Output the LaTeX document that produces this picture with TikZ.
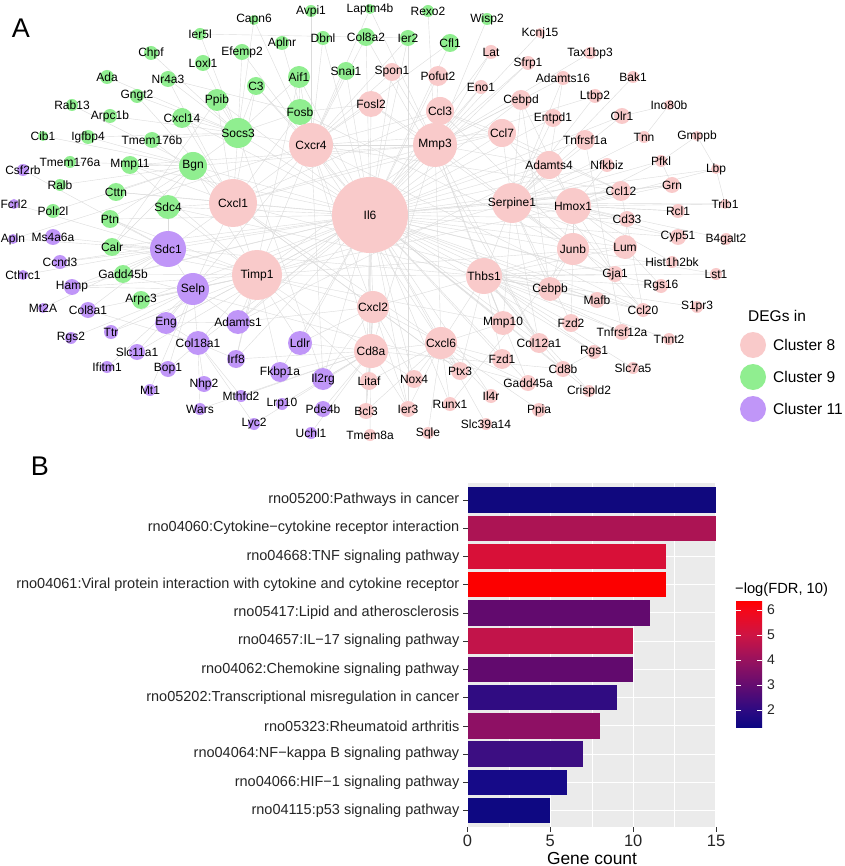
\documentclass[tikz,border=0pt]{standalone}
\usepackage{fontspec}
\setmainfont{Liberation Sans}
\pgfdeclarelayer{bg}\pgfdeclarelayer{fg}
\pgfsetlayers{bg,main,fg}
\definecolor{c8}{RGB}{249,202,202}
\definecolor{c9}{RGB}{144,238,144}
\definecolor{c11}{RGB}{192,150,248}
\definecolor{edgec}{RGB}{220,220,220}
\definecolor{panelbg}{RGB}{235,235,235}
\definecolor{tickc}{RGB}{51,51,51}
\definecolor{lo}{RGB}{12,6,130}
\definecolor{s2}{RGB}{45,10,130}
\definecolor{s3}{RGB}{100,12,112}
\definecolor{s4}{RGB}{152,18,94}
\definecolor{s5}{RGB}{205,20,68}
\definecolor{s6}{RGB}{245,8,25}
\definecolor{hi}{RGB}{255,0,0}
\definecolor{b1}{RGB}{16,8,126}
\definecolor{b2}{RGB}{172,20,84}
\definecolor{b3}{RGB}{216,16,56}
\definecolor{b4}{RGB}{252,0,0}
\definecolor{b5}{RGB}{98,10,110}
\definecolor{b6}{RGB}{194,20,74}
\definecolor{b7}{RGB}{98,10,110}
\definecolor{b8}{RGB}{48,12,130}
\definecolor{b9}{RGB}{142,16,100}
\definecolor{b10}{RGB}{60,14,130}
\definecolor{b11}{RGB}{22,10,136}
\definecolor{b12}{RGB}{14,8,130}
\pgfdeclareverticalshading{fdr}{100bp}{color(0bp)=(lo); color(25bp)=(lo); color(31.75bp)=(s2); color(41.67bp)=(s3); color(51.59bp)=(s4); color(61.51bp)=(s5); color(71.43bp)=(s6); color(75bp)=(hi); color(100bp)=(hi)}
\tikzset{
  gcirc/.style={circle, draw=none, inner sep=0pt},
  glab/.style={inner sep=0pt, font=\fontsize{12}{12}\selectfont, text=black},
  edge/.style={draw=edgec, line width=0.4pt},
  ylab/.style={anchor=east, inner sep=0pt, font=\fontsize{14.5}{14.5}\selectfont, text=black!85},
  xlab/.style={inner sep=0pt, font=\fontsize{16.5}{16.5}\selectfont, text=black!85},
  tickline/.style={draw=tickc, line width=0.6pt},
  leglab/.style={anchor=west, inner sep=0pt, font=\fontsize{15.5}{15.5}\selectfont},
  panel/.style={inner sep=0pt, font=\fontsize{27}{27}\selectfont}
}
\newcommand\gnode[5]{%
  \node[gcirc, fill=#5, minimum size={2*#4pt}] (#1) at (#2,#3) {};
  \begin{pgfonlayer}{fg}\node[glab] at (#1.center) {#1};\end{pgfonlayer}}
\begin{document}
\begin{tikzpicture}[x=1pt, y=-1pt]
\begin{pgfonlayer}{bg}
\fill[white] (0,0) rectangle (844,866);
\end{pgfonlayer}
\useasboundingbox (0,0) rectangle (844,866);

\node[panel] (labA) at (21,28) {A};
\node[panel] (labB) at (40,466) {B};

% ---- cluster 8 (pink)
\gnode{Il6}{370}{215}{38}{c8}
\gnode{Cxcr4}{311}{145}{22}{c8}
\gnode{Mmp3}{435}{145}{22}{c8}
\gnode{Cxcl1}{233}{203}{24}{c8}
\gnode{Timp1}{257}{275}{25}{c8}
\gnode{Serpine1}{512}{203}{20}{c8}
\gnode{Thbs1}{484}{276}{18}{c8}
\gnode{Hmox1}{573}{206}{18}{c8}
\gnode{Junb}{573}{249}{16}{c8}
\gnode{Cxcl2}{373}{307}{16}{c8}
\gnode{Cd8a}{371}{351}{17}{c8}
\gnode{Cxcl6}{441}{343}{16}{c8}
\gnode{Ccl3}{440}{111}{14}{c8}
\gnode{Ccl7}{502}{133}{14}{c8}
\gnode{Fosl2}{371}{104}{13}{c8}
\gnode{Adamts4}{549}{165}{14}{c8}
\gnode{Lum}{625}{247}{12}{c8}
\gnode{Cebpb}{550}{289}{12}{c8}
\gnode{Mmp10}{503}{323}{12}{c8}
\gnode{Cebpd}{521}{100}{10}{c8}
\gnode{Pofut2}{438}{76}{10}{c8}
\gnode{Spon1}{392}{72}{9}{c8}
\gnode{Tnfrsf1a}{585}{140}{10}{c8}
\gnode{Ccl12}{621}{191}{10}{c8}
\gnode{Col12a1}{539}{343}{10}{c8}
\gnode{Fzd1}{502}{359}{10}{c8}
\gnode{Entpd1}{553}{118}{9}{c8}
\gnode{Fzd2}{571}{323}{9}{c8}
\gnode{Ptx3}{460}{371}{9}{c8}
\gnode{Nox4}{414}{379}{9}{c8}
\gnode{Litaf}{369}{381}{9}{c8}
\gnode{Olr1}{622}{116}{8}{c8}
\gnode{Eno1}{481}{87}{7}{c8}
\gnode{Lat}{491}{52}{7}{c8}
\gnode{Sfrp1}{528}{63}{7}{c8}
\gnode{Kcnj15}{540}{33}{5}{c8}
\gnode{Tax1bp3}{590}{53}{6}{c8}
\gnode{Adamts16}{563}{78}{7}{c8}
\gnode{Bak1}{633}{77}{6}{c8}
\gnode{Ltbp2}{595}{96}{7}{c8}
\gnode{Ino80b}{669}{105}{5}{c8}
\gnode{Tnn}{644}{137}{6}{c8}
\gnode{Gmppb}{697}{136}{5}{c8}
\gnode{Nfkbiz}{607}{165}{7}{c8}
\gnode{Pfkl}{661}{161}{6}{c8}
\gnode{Lbp}{716}{169}{5}{c8}
\gnode{Grn}{672}{185}{8}{c8}
\gnode{Trib1}{725}{204}{5}{c8}
\gnode{Rcl1}{678}{211}{7}{c8}
\gnode{Cd33}{627}{219}{8}{c8}
\gnode{Cyp51}{678}{237}{8}{c8}
\gnode{B4galt2}{726}{239}{6}{c8}
\gnode{Hist1h2bk}{672}{262}{6}{c8}
\gnode{Lst1}{716}{274}{6}{c8}
\gnode{Gja1}{615}{274}{8}{c8}
\gnode{Rgs16}{661}{286}{7}{c8}
\gnode{Mafb}{597}{300}{8}{c8}
\gnode{Ccl20}{643}{310}{7}{c8}
\gnode{S1pr3}{697}{307}{6}{c8}
\gnode{Tnfrsf12a}{622}{332}{8}{c8}
\gnode{Tnnt2}{669}{339}{6}{c8}
\gnode{Rgs1}{594}{352}{7}{c8}
\gnode{Cd8b}{563}{369}{8}{c8}
\gnode{Slc7a5}{633}{368}{6}{c8}
\gnode{Crispld2}{589}{391}{6}{c8}
\gnode{Gadd45a}{528}{383}{8}{c8}
\gnode{Il4r}{491}{396}{7}{c8}
\gnode{Ppia}{539}{410}{7}{c8}
\gnode{Slc39a14}{486}{424}{6}{c8}
\gnode{Runx1}{450}{404}{7}{c8}
\gnode{Ier3}{408}{409}{8}{c8}
\gnode{Sqle}{428}{433}{6}{c8}
\gnode{Bcl3}{366}{411}{8}{c8}
\gnode{Tmem8a}{370}{435}{6}{c8}

% ---- cluster 9 (green)
\gnode{Capn6}{254}{20}{5}{c9}
\gnode{Avpi1}{311}{11}{6}{c9}
\gnode{Laptm4b}{370}{9}{5}{c9}
\gnode{Rexo2}{428}{11}{6}{c9}
\gnode{Wisp2}{487}{19}{6}{c9}
\gnode{Ier5l}{200}{34}{6}{c9}
\gnode{Aplnr}{282}{43}{7}{c9}
\gnode{Dbnl}{323}{38}{7}{c9}
\gnode{Col8a2}{366}{37}{9}{c9}
\gnode{Ier2}{408}{38}{8}{c9}
\gnode{Cfl1}{450}{43}{9}{c9}
\gnode{Chpf}{151}{53}{7}{c9}
\gnode{Efemp2}{242}{52}{8}{c9}
\gnode{Loxl1}{203}{63}{8}{c9}
\gnode{Ada}{107}{77}{7}{c9}
\gnode{Nr4a3}{168}{79}{8}{c9}
\gnode{C3}{256}{86}{9}{c9}
\gnode{Aif1}{299}{77}{11}{c9}
\gnode{Snai1}{346}{71}{9}{c9}
\gnode{Gngt2}{137}{96}{7}{c9}
\gnode{Ppib}{217}{100}{11}{c9}
\gnode{Rab13}{72}{105}{6}{c9}
\gnode{Arpc1b}{110}{116}{7}{c9}
\gnode{Cxcl14}{182}{118}{10}{c9}
\gnode{Fosb}{300}{112}{13}{c9}
\gnode{Socs3}{238}{133}{15}{c9}
\gnode{Cib1}{43}{136}{5}{c9}
\gnode{Igfbp4}{88}{137}{7}{c9}
\gnode{Tmem176b}{152}{140}{8}{c9}
\gnode{Tmem176a}{70}{162}{6}{c9}
\gnode{Mmp11}{130}{165}{9}{c9}
\gnode{Bgn}{193}{166}{14}{c9}
\gnode{Ralb}{60}{185}{6}{c9}
\gnode{Cttn}{116}{192}{9}{c9}
\gnode{Sdc4}{168}{207}{12}{c9}
\gnode{Polr2l}{53}{211}{7}{c9}
\gnode{Ptn}{110}{219}{9}{c9}
\gnode{Calr}{112}{247}{9}{c9}
\gnode{Gadd45b}{123}{274}{9}{c9}
\gnode{Arpc3}{141}{300}{9}{c9}

% ---- cluster 11 (purple)
\gnode{Csf2rb}{23}{170}{6}{c11}
\gnode{Fcrl2}{14}{204}{5}{c11}
\gnode{Apln}{13}{239}{5}{c11}
\gnode{Ms4a6a}{53}{237}{8}{c11}
\gnode{Sdc1}{168}{249}{18}{c11}
\gnode{Ccnd3}{60}{262}{7}{c11}
\gnode{Cthrc1}{23}{275}{5}{c11}
\gnode{Hamp}{72}{287}{8}{c11}
\gnode{Selp}{193}{289}{16}{c11}
\gnode{Mt2A}{43}{308}{5}{c11}
\gnode{Col8a1}{88}{310}{8}{c11}
\gnode{Eng}{166}{323}{11}{c11}
\gnode{Adamts1}{238}{322}{12}{c11}
\gnode{Ttr}{111}{332}{7}{c11}
\gnode{Rgs2}{71}{338}{6}{c11}
\gnode{Col18a1}{198}{343}{12}{c11}
\gnode{Slc11a1}{137}{352}{8}{c11}
\gnode{Irf8}{236}{359}{9}{c11}
\gnode{Ifitm1}{107}{367}{6}{c11}
\gnode{Bop1}{168}{369}{8}{c11}
\gnode{Fkbp1a}{280}{372}{10}{c11}
\gnode{Nhp2}{204}{384}{8}{c11}
\gnode{Mt1}{150}{390}{6}{c11}
\gnode{Mthfd2}{241}{396}{6}{c11}
\gnode{Lrp10}{282}{404}{6}{c11}
\gnode{Wars}{200}{409}{6}{c11}
\gnode{Lyc2}{254}{424}{6}{c11}
\gnode{Ldlr}{300}{343}{12}{c11}
\gnode{Il2rg}{323}{379}{11}{c11}
\gnode{Pde4b}{323}{409}{8}{c11}
\gnode{Uchl1}{311}{433}{6}{c11}

% ---- edges
\begin{pgfonlayer}{bg}
\foreach \t in {Cxcr4,Mmp3,Cxcl1,Timp1,Serpine1,Thbs1,Cxcl2,Cd8a,Cxcl6,Hmox1,Junb,Ccl7,Ccl3,Fosl2,Socs3,Bgn,Sdc1,Selp,Fosb,Aif1,Cebpd,Cebpb,Adamts4,Lum,Mmp10,Ccl12,Ccl20,Col18a1,Adamts1,Eng,Ldlr,Il2rg,Litaf,Nox4,Ptx3,Ier3,Runx1,Bcl3,Il4r,Fzd1,Col12a1,Gadd45a,Tnfrsf1a,Tnfrsf12a,Nfkbiz,Grn,Lbp,Cd33,Ppib,C3,Cxcl14,Sdc4,Calr,Gadd45b,Ptn,Mmp11,Cttn,Arpc3,Snai1,Spon1,Pofut2,Eno1,Lat,Sfrp1,Entpd1,Olr1,Fkbp1a,Irf8,Slc11a1,Hamp,Ccnd3,Crispld2,Rgs1,Cd8b,Gja1,Mafb,Rgs16,Cyp51,Col8a2,Ier2,Cfl1,Dbnl}
  \draw[edge] (Il6) -- (\t);
\foreach \t in {Cxcl1,Cxcl2,Cxcl6,Ccl3,Ccl7,Mmp3,Timp1,Selp,Il2rg,Cd8a,Ccl20,Ccl12,Socs3,Fosb,Aif1,Snai1,Col8a2,Dbnl,Aplnr,Apln,Efemp2,C3,Ier2,Cfl1,Avpi1,Capn6,Laptm4b,Spon1,Fosl2}
  \draw[edge] (Cxcr4) -- (\t);
\foreach \t in {Timp1,Serpine1,Thbs1,Cxcl1,Mmp10,Mmp11,Col12a1,Adamts4,Adamts1,Adamts16,Ccl3,Ccl7,Fosl2,Pofut2,Spon1,Lat,Sfrp1,Wisp2,Kcnj15,Rexo2,Laptm4b,Ltbp2,Tax1bp3,Eno1,Cebpd,Cxcl6,Cd8a,Bgn}
  \draw[edge] (Mmp3) -- (\t);
\foreach \t in {Serpine1,Thbs1,Cxcl1,Sdc1,Selp,Eng,Col18a1,Adamts1,Mmp10,Cd8a,Hmox1,Lum,Bgn,Sdc4,Calr,Gadd45b,Arpc3,Ptn,Col8a1,Ttr,Hamp,Fkbp1a,Ldlr,Litaf,Cxcl2,Irf8}
  \draw[edge] (Timp1) -- (\t);
\foreach \t in {Cxcl2,Cxcl6,Ccl3,Ccl7,Selp,Socs3,Bgn,Cxcl14,Ppib,Cttn,Mmp11,Tmem176b,Sdc4,Sdc1,Ccl20,Ptx3,Fosb,C3,Gngt2,Nr4a3}
  \draw[edge] (Cxcl1) -- (\t);
\foreach \t in {Thbs1,Hmox1,Junb,Cebpb,Lum,Adamts4,Ccl12,Cd33,Nfkbiz,Tnfrsf1a,Olr1,Entpd1,Tnn,Grn,Gja1,Fzd2,Col12a1,Mmp10,Bak1,Pfkl,Rcl1,Trib1,Cyp51,Ccl7,Cebpd,Ltbp2,Adamts16}
  \draw[edge] (Serpine1) -- (\t);
\foreach \t in {Cxcl2,Cxcl6,Mmp10,Fzd1,Cebpb,Junb,Lum,Sdc1,Sdc4,Col12a1,Gja1,Mafb,Rgs16,Tnfrsf12a,Ccl20,Rgs1,Cd8b,Crispld2,Ptx3,Gadd45a,Hist1h2bk,Lst1,S1pr3,Tnnt2,Slc7a5,Fzd2}
  \draw[edge] (Thbs1) -- (\t);
\foreach \t in {Il2rg,Cd8b,Ldlr,Litaf,Bcl3,Pde4b,Uchl1,Tmem8a,Cxcl2,Cxcl6,Lrp10,Lyc2,Mthfd2,Wars,Irf8,Fkbp1a,Nox4,Ier3}
  \draw[edge] (Cd8a) -- (\t);
\foreach \t in {Cxcl2,Nox4,Ier3,Runx1,Sqle,Slc39a14,Il4r,Ppia,Ptx3,Litaf,Bcl3,Mmp10,Fzd1,Gadd45a}
  \draw[edge] (Cxcl6) -- (\t);
\foreach \t in {Nox4,Litaf,Bcl3,Ldlr,Adamts1,Ier3,Ptx3,Il2rg}
  \draw[edge] (Cxcl2) -- (\t);
\foreach \t in {Junb,Cebpb,Cebpd,Ccl12,Cd33,Grn,Lbp,Trib1,Rcl1,Cyp51,B4galt2,Hist1h2bk,Lum,Gja1,Pfkl,Adamts4,Nfkbiz}
  \draw[edge] (Hmox1) -- (\t);
\foreach \t in {Fosb,Aif1,C3,Ppib,Cxcl14,Nr4a3,Loxl1,Efemp2,Ier5l,Capn6,Chpf,Gngt2,Ada,Arpc1b,Igfbp4,Tmem176b,Bgn}
  \draw[edge] (Socs3) -- (\t);
\foreach \t in {Mmp11,Cttn,Tmem176a,Ralb,Cib1,Rab13,Igfbp4,Polr2l,Ptn,Calr,Sdc4}
  \draw[edge] (Bgn) -- (\t);
\foreach \t in {Selp,Ms4a6a,Ccnd3,Apln,Fcrl2,Csf2rb,Cthrc1,Hamp,Mt2A,Col8a1,Gadd45b,Calr,Ptn}
  \draw[edge] (Sdc1) -- (\t);
\foreach \t in {Eng,Adamts1,Col18a1,Ttr,Rgs2,Slc11a1,Ifitm1,Bop1,Mt1,Arpc3,Hamp}
  \draw[edge] (Selp) -- (\t);
\foreach \t in {Nhp2,Wars,Mthfd2,Irf8,Bop1,Lyc2,Eng}
  \draw[edge] (Col18a1) -- (\t);
\foreach \a/\b in {Gmppb/Pfkl,Ino80b/Olr1,Lbp/Trib1,Pfkl/Grn,Gmppb/Lbp,Ino80b/Tnn,Junb/Lst1,Junb/Cebpb,Cebpb/Mafb,Fosb/Aif1,Ccl3/Ccl7,Ccl3/Ccl12,Ccl7/Ccl12,Ccl3/Ccl20,Tnfrsf1a/Tnfrsf12a,Cd8b/Rgs1,Junb/Fzd2,Lum/Cd33,Lum/Rgs16,Fosl2/Junb,Fosl2/Fosb,Cebpd/Cebpb,Ccl7/Ccl20,Adamts4/Adamts1,Adamts16/Adamts4,Eng/Adamts1,Socs3/Il2rg,Aif1/Irf8,Ccl12/Ccl20,Junb/Fosb,Nr4a3/Fosb,Calr/Ppib,Sdc4/Sdc1,Mmp11/Timp1,Col8a1/Col18a1,Col8a2/Col12a1,Runx1/Junb,Gadd45a/Gadd45b,Ier2/Ier3,Ier5l/Ier2}
  \draw[edge] (\a) -- (\b);
\end{pgfonlayer}

% ---- legend
\node[leglab] (legT) at (748,316) {DEGs in};
\node[gcirc, fill=c8, minimum size=26pt] (lg8) at (753,345) {};
\node[gcirc, fill=c9, minimum size=26pt] (lg9) at (753,377) {};
\node[gcirc, fill=c11, minimum size=26pt] (lg11) at (753,409) {};
\node[leglab] (lt8) at (773,345) {Cluster 8};
\node[leglab] (lt9) at (773,377) {Cluster 9};
\node[leglab] (lt11) at (773,409) {Cluster 11};

% ---- bar chart
\fill[panelbg] (467.5,483) rectangle (716,827.4);
\foreach \x in {508.9,591.8,674.6}
  \draw[white, line width=0.5pt] (\x,483) -- (\x,827.4);
\foreach \x in {467.5,550.3,633.2,716}
  \draw[white, line width=1.1pt] (\x,483) -- (\x,827.4);
\foreach \i in {1,...,12}{
  \pgfmathsetmacro\yc{500+(\i-1)*28.23}
  \draw[white, line width=1.1pt] (467.5,\yc) -- (716,\yc);
}
\foreach \i/\val/\col/\lab in {
  1/15/b1/{rno05200:Pathways in cancer},
  2/15/b2/{rno04060:Cytokine−cytokine receptor interaction},
  3/12/b3/{rno04668:TNF signaling pathway},
  4/12/b4/{rno04061:Viral protein interaction with cytokine and cytokine receptor},
  5/11/b5/{rno05417:Lipid and atherosclerosis},
  6/10/b6/{rno04657:IL−17 signaling pathway},
  7/10/b7/{rno04062:Chemokine signaling pathway},
  8/9/b8/{rno05202:Transcriptional misregulation in cancer},
  9/8/b9/{rno05323:Rheumatoid arthritis},
  10/7/b10/{rno04064:NF−kappa B signaling pathway},
  11/6/b11/{rno04066:HIF−1 signaling pathway},
  12/5/b12/{rno04115:p53 signaling pathway}}{
  \pgfmathsetmacro\yc{500+(\i-1)*28.23}
  \pgfmathsetmacro\xe{467.5+\val*16.567}
  \fill[\col] (467.5,\yc-12.7) rectangle (\xe,\yc+12.7);
  \draw[tickline] (463,\yc) -- (467.5,\yc);
  \node[ylab] (ylab\i) at (459.5,\yc) {\lab};
}
\foreach \v/\x in {0/467.5,5/550.3,10/633.2,15/716}{
  \draw[tickline] (\x,827.4) -- (\x,831.9);
  \node[xlab] (xt\v) at (\x,841) {\v};
}
\node[inner sep=0pt, font=\fontsize{17.4}{17.4}\selectfont] (xtitle) at (592,858) {Gene count};

% ---- colour bar
\node[anchor=west, inner sep=0pt, font=\fontsize{14.7}{14.7}\selectfont] (cbt) at (735,590) {−log(FDR, 10)};
\shade[shading=fdr] (736,601) rectangle (762,727);
\foreach \v/\y in {2/710,3/685,4/660,5/635,6/610}{
  \draw[white, line width=0.6pt] (736,\y) -- (741.2,\y);
  \draw[white, line width=0.6pt] (756.8,\y) -- (762,\y);
  \node[anchor=west, inner sep=0pt, font=\fontsize{14}{14}\selectfont, text=black!85] (cb\v) at (767,\y) {\v};
}
\end{tikzpicture}
\end{document}
